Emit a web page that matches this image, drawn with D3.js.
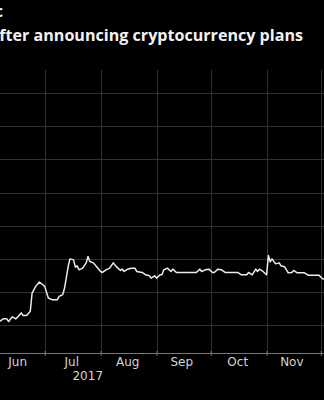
<!DOCTYPE html>
<html>
<head>
<meta charset="utf-8">
<script src="https://cdn.jsdelivr.net/npm/d3@7"></script>
<style>
  html, body { margin: 0; padding: 0; background: #000; }
  svg { display: block; }
</style>
</head>
<body>
<svg id="chart" width="324" height="400"></svg>
<script>
// values (stock price, USD)
const dates = [
  '2017-06-06', '2017-06-08', '2017-06-10', '2017-06-11', '2017-06-13', '2017-06-15', '2017-06-16',
  '2017-06-18', '2017-06-19', '2017-06-21', '2017-06-23', '2017-06-24', '2017-06-26', '2017-06-28', '2017-06-30',
  '2017-07-01', '2017-07-03', '2017-07-05', '2017-07-08', '2017-07-09', '2017-07-11', '2017-07-12', '2017-07-14',
  '2017-07-15', '2017-07-17', '2017-07-18', '2017-07-19', '2017-07-20', '2017-07-22', '2017-07-24', '2017-07-25',
  '2017-07-26', '2017-07-28', '2017-07-30',
  '2017-08-01', '2017-08-02', '2017-08-04', '2017-08-06', '2017-08-08', '2017-08-10', '2017-08-12', '2017-08-13',
  '2017-08-14', '2017-08-16', '2017-08-18', '2017-08-20', '2017-08-21', '2017-08-24', '2017-08-26', '2017-08-28',
  '2017-08-29', '2017-08-31',
  '2017-09-01', '2017-09-03', '2017-09-04', '2017-09-05', '2017-09-07', '2017-09-09', '2017-09-10', '2017-09-12',
  '2017-09-14', '2017-09-18', '2017-09-23', '2017-09-25', '2017-09-26', '2017-09-28', '2017-09-30',
  '2017-10-02', '2017-10-03', '2017-10-05', '2017-10-07', '2017-10-09', '2017-10-13', '2017-10-16', '2017-10-18',
  '2017-10-21', '2017-10-22', '2017-10-24', '2017-10-26', '2017-10-27', '2017-10-28', '2017-10-30',
  '2017-11-01', '2017-11-02', '2017-11-03', '2017-11-04', '2017-11-06', '2017-11-08', '2017-11-09', '2017-11-11',
  '2017-11-13', '2017-11-15', '2017-11-16', '2017-11-18', '2017-11-22', '2017-11-24', '2017-11-30',
  '2017-12-02', '2017-12-04'
]
const prices = [
  1.11, 1.19, 1.19, 1.11, 1.25, 1.19, 1.25,
  1.37, 1.29, 1.29, 1.42, 1.97, 2.17, 2.30, 2.22,
  2.17, 1.82, 1.77, 1.77, 1.87, 1.92, 2.12, 2.77,
  3.00, 2.97, 2.75, 2.79, 2.67, 2.72, 2.88, 3.07,
  2.92, 2.88, 2.75,
  2.62, 2.59, 2.67, 2.72, 2.88, 2.75, 2.65, 2.69,
  2.62, 2.69, 2.72, 2.72, 2.62, 2.59, 2.52, 2.49,
  2.42, 2.49,
  2.42, 2.52, 2.52, 2.67, 2.72, 2.62, 2.69, 2.59,
  2.59, 2.59, 2.59, 2.69, 2.62, 2.67, 2.69,
  2.59, 2.59, 2.69, 2.67, 2.59, 2.59, 2.59, 2.52,
  2.52, 2.59, 2.52, 2.69, 2.62, 2.69, 2.62,
  2.52, 3.10, 2.91, 3.00, 2.85, 2.88, 2.79, 2.76,
  2.58, 2.59, 2.65, 2.58, 2.58, 2.51, 2.51,
  2.40, 2.38
]
const gridValues = [1, 2, 3, 4, 5, 6, 7, 8]
const monthStarts = ['2017-07-01', '2017-08-01', '2017-09-01', '2017-10-01', '2017-11-01', '2017-12-01']
const monthMids = ['2017-06-16', '2017-07-16', '2017-08-16', '2017-09-15', '2017-10-16', '2017-11-15']
const monthLabels = ['Jun', 'Jul', 'Aug', 'Sep', 'Oct', 'Nov']
const yearLabel = '2017'
// the original is cropped: only the tail of each title line is visible
const titleLines = [
  'Blockchain Magic',
  'Long Island Iced Tea shares soared after announcing cryptocurrency plans'
]

const parse = d3.timeParse('%Y-%m-%d')
const series = dates.map((d, i) => ({ date: parse(d), value: prices[i] }))

const svg = d3.select('#chart')
const width = 324

// plot area (chart is cropped on the left and right in the original)
const plotTop = 70
const plotBottom = 353

const x = d3.scaleTime()
  .domain([parse('2017-06-01'), parse('2017-12-01')])
  .range([-9.4, 320.7])

const y = d3.scaleLinear()
  .domain([0.16, 8.7])
  .range([plotBottom, plotTop])

svg.append('rect')
  .attr('width', width)
  .attr('height', 400)
  .attr('fill', '#000')

// title
svg.append('g')
  .selectAll('text')
  .data(titleLines)
  .join('text')
  .attr('x', (d, i) => (i === 0 ? 3 : 303))
  .attr('y', (d, i) => 17 + i * 24)
  .attr('text-anchor', 'end')
  .attr('fill', '#f2f2f2')
  .attr('font-family', 'Open Sans, sans-serif')
  .attr('font-weight', 700)
  .attr('font-size', 16.1)
  .text((d) => d)

// horizontal grid
svg.append('g')
  .selectAll('line')
  .data(gridValues)
  .join('line')
  .attr('x1', 0)
  .attr('x2', width)
  .attr('y1', (d) => Math.round(y(d)) + 0.5)
  .attr('y2', (d) => Math.round(y(d)) + 0.5)
  .attr('stroke', '#303030')
  .attr('stroke-width', 1)

// vertical grid at month boundaries
svg.append('g')
  .selectAll('line')
  .data(monthStarts.map(parse))
  .join('line')
  .attr('x1', (d) => Math.round(x(d)) + 0.5)
  .attr('x2', (d) => Math.round(x(d)) + 0.5)
  .attr('y1', plotTop)
  .attr('y2', plotBottom)
  .attr('stroke', '#303030')
  .attr('stroke-width', 1)

// x axis with ticks at month starts
const xAxis = d3.axisBottom(x)
  .tickValues(monthStarts.map(parse))
  .tickSize(3)
  .tickFormat('')

const axisG = svg.append('g')
  .attr('transform', `translate(0,${plotBottom})`)
  .call(xAxis)
axisG.select('.domain').remove()
axisG.selectAll('.tick line').attr('stroke', '#777').attr('y1', -2)
axisG.append('line')
  .attr('x1', 0)
  .attr('x2', width)
  .attr('y1', 0.5)
  .attr('y2', 0.5)
  .attr('stroke', '#777')

// month labels centred in each month
svg.append('g')
  .selectAll('text')
  .data(monthLabels)
  .join('text')
  .attr('x', (d, i) => x(parse(monthMids[i])))
  .attr('y', 366)
  .attr('text-anchor', 'middle')
  .attr('fill', '#d4d4d4')
  .attr('font-family', 'DejaVu Sans, sans-serif')
  .attr('font-size', 12)
  .text((d) => d)

svg.append('text')
  .attr('x', x(parse('2017-07-16')) + 16)
  .attr('y', 380)
  .attr('text-anchor', 'middle')
  .attr('fill', '#d4d4d4')
  .attr('font-family', 'DejaVu Sans, sans-serif')
  .attr('font-size', 12)
  .text(yearLabel)

// price line
const line = d3.line()
  .x((d) => x(d.date))
  .y((d) => y(d.value))

svg.append('path')
  .datum(series)
  .attr('d', line)
  .attr('fill', 'none')
  .attr('stroke', '#ececec')
  .attr('stroke-width', 1.5)
  .attr('stroke-linejoin', 'round')
</script>
</body>
</html>
